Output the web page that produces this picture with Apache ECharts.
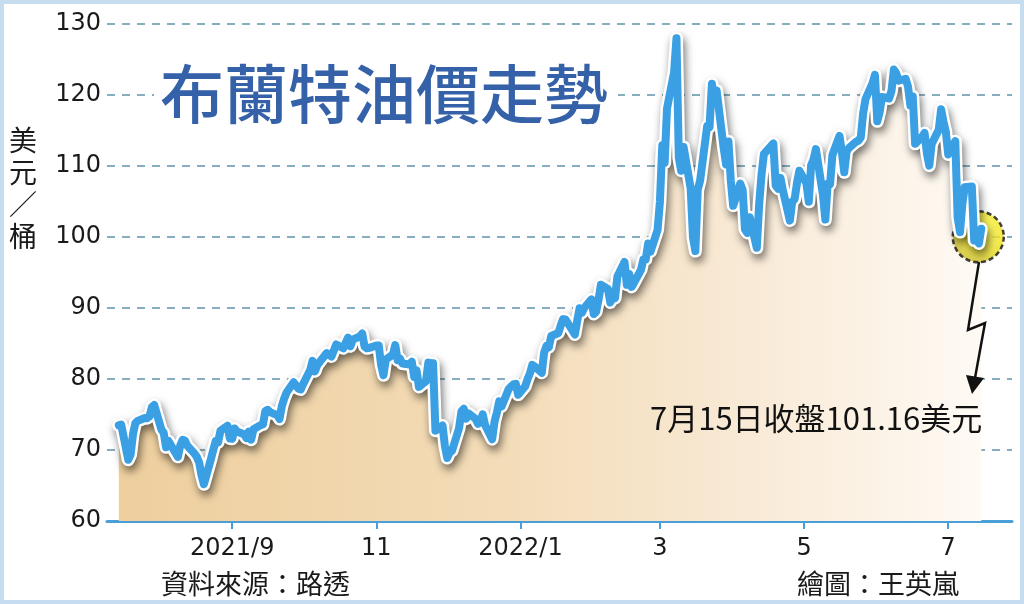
<!DOCTYPE html>
<html>
<head>
<meta charset="utf-8">
<script src="https://cdn.jsdelivr.net/npm/echarts@6/dist/echarts.min.js"></script>
<style>
html,body{margin:0;padding:0;background:#fff;}
#c{width:1024px;height:604px;}
</style>
</head>
<body>
<div id="c"></div>
<script>
// ---- data (Brent close, USD/bbl) ----
var dates = [
'2021-07-15','2021-07-16','2021-07-19','2021-07-20','2021-07-21','2021-07-22','2021-07-23','2021-07-26','2021-07-27','2021-07-28','2021-07-29','2021-07-30',
'2021-08-02','2021-08-03','2021-08-04','2021-08-05','2021-08-06','2021-08-09','2021-08-10','2021-08-11','2021-08-12','2021-08-13','2021-08-16','2021-08-17','2021-08-18','2021-08-19','2021-08-20','2021-08-23','2021-08-24','2021-08-25','2021-08-26','2021-08-27','2021-08-30','2021-08-31',
'2021-09-01','2021-09-02','2021-09-03','2021-09-06','2021-09-07','2021-09-08','2021-09-09','2021-09-10','2021-09-13','2021-09-14','2021-09-15','2021-09-16','2021-09-17','2021-09-20','2021-09-21','2021-09-22','2021-09-23','2021-09-24','2021-09-27','2021-09-28','2021-09-29','2021-09-30',
'2021-10-01','2021-10-04','2021-10-05','2021-10-06','2021-10-07','2021-10-08','2021-10-11','2021-10-12','2021-10-13','2021-10-14','2021-10-15','2021-10-18','2021-10-19','2021-10-20','2021-10-21','2021-10-22','2021-10-25','2021-10-26','2021-10-27','2021-10-28','2021-10-29',
'2021-11-01','2021-11-02','2021-11-03','2021-11-04','2021-11-05','2021-11-08','2021-11-09','2021-11-10','2021-11-11','2021-11-12','2021-11-15','2021-11-16','2021-11-17','2021-11-18','2021-11-19','2021-11-22','2021-11-23','2021-11-24','2021-11-25','2021-11-26','2021-11-29','2021-11-30',
'2021-12-01','2021-12-02','2021-12-03','2021-12-06','2021-12-07','2021-12-08','2021-12-09','2021-12-10','2021-12-13','2021-12-14','2021-12-15','2021-12-16','2021-12-17','2021-12-20','2021-12-21','2021-12-22','2021-12-23','2021-12-24','2021-12-27','2021-12-28','2021-12-29','2021-12-30','2021-12-31',
'2022-01-03','2022-01-04','2022-01-05','2022-01-06','2022-01-07','2022-01-10','2022-01-11','2022-01-12','2022-01-13','2022-01-14','2022-01-17','2022-01-18','2022-01-19','2022-01-20','2022-01-21','2022-01-24','2022-01-25','2022-01-26','2022-01-27','2022-01-28','2022-01-31',
'2022-02-01','2022-02-02','2022-02-03','2022-02-04','2022-02-07','2022-02-08','2022-02-09','2022-02-10','2022-02-11','2022-02-14','2022-02-15','2022-02-16','2022-02-17','2022-02-18','2022-02-21','2022-02-22','2022-02-23','2022-02-24','2022-02-25','2022-02-28',
'2022-03-01','2022-03-02','2022-03-03','2022-03-04','2022-03-07','2022-03-08','2022-03-09','2022-03-10','2022-03-11','2022-03-14','2022-03-15','2022-03-16','2022-03-17','2022-03-18','2022-03-21','2022-03-22','2022-03-23','2022-03-24','2022-03-25','2022-03-28','2022-03-29','2022-03-30','2022-03-31',
'2022-04-01','2022-04-04','2022-04-05','2022-04-06','2022-04-07','2022-04-08','2022-04-11','2022-04-12','2022-04-13','2022-04-14','2022-04-18','2022-04-19','2022-04-20','2022-04-21','2022-04-22','2022-04-25','2022-04-26','2022-04-27','2022-04-28','2022-04-29',
'2022-05-02','2022-05-03','2022-05-04','2022-05-05','2022-05-06','2022-05-09','2022-05-10','2022-05-11','2022-05-12','2022-05-13','2022-05-16','2022-05-17','2022-05-18','2022-05-19','2022-05-20','2022-05-23','2022-05-24','2022-05-25','2022-05-26','2022-05-27','2022-05-30','2022-05-31',
'2022-06-01','2022-06-02','2022-06-03','2022-06-06','2022-06-07','2022-06-08','2022-06-09','2022-06-10','2022-06-13','2022-06-14','2022-06-15','2022-06-16','2022-06-17','2022-06-20','2022-06-21','2022-06-22','2022-06-23','2022-06-24','2022-06-27','2022-06-28','2022-06-29','2022-06-30',
'2022-07-01','2022-07-04','2022-07-05','2022-07-06','2022-07-07','2022-07-08','2022-07-11','2022-07-12','2022-07-13','2022-07-14','2022-07-15'
];
var prices = [
73.47,73.59,68.62,69.35,72.23,73.79,74.10,74.50,74.48,74.74,76.05,76.33,
72.89,72.41,70.38,71.29,70.70,69.04,70.63,71.44,71.31,70.59,69.51,69.03,68.23,66.45,65.18,68.75,70.05,71.25,71.07,72.70,73.41,71.63,
71.59,73.03,72.61,72.22,71.69,72.60,71.45,72.92,73.51,73.60,75.46,75.67,75.34,74.92,74.36,76.19,77.25,78.09,79.53,79.09,78.64,78.52,
79.28,81.26,82.56,81.08,81.95,82.39,83.65,83.42,83.18,84.00,84.86,84.33,85.08,85.82,84.61,85.53,85.99,86.40,84.58,84.32,84.38,
84.71,84.72,81.99,80.54,82.74,83.43,84.78,82.64,82.87,82.17,82.05,82.43,80.28,81.24,78.89,79.70,82.31,82.25,82.22,72.72,73.44,70.57,
68.87,69.67,69.88,73.08,75.44,75.82,74.42,75.15,74.39,73.70,73.88,75.02,73.52,71.52,73.98,75.29,76.85,76.14,78.60,78.94,79.23,79.32,77.78,
78.98,80.00,80.80,81.99,81.75,80.87,83.72,84.67,84.47,86.06,86.48,87.51,88.44,88.38,87.89,86.27,88.20,89.96,89.34,90.03,91.21,
89.16,89.47,91.11,93.27,92.69,90.78,91.55,91.41,94.44,96.48,93.28,94.81,92.97,93.54,95.39,96.84,96.84,99.08,97.93,100.99,
104.97,112.93,110.46,118.11,123.21,127.98,111.14,109.33,112.67,106.90,99.91,98.02,106.64,107.93,115.62,115.48,121.60,119.03,120.65,112.48,110.23,113.45,107.91,
104.39,107.53,106.64,101.07,100.58,102.78,98.48,104.64,108.78,111.70,113.16,107.25,106.80,108.33,106.65,102.32,104.99,105.32,107.59,109.34,
107.58,104.97,110.14,110.90,112.39,105.94,102.46,107.51,107.45,111.55,114.24,111.93,109.11,112.04,112.55,113.42,113.56,114.03,117.40,119.43,121.67,122.84,
116.29,117.61,119.72,119.51,120.57,123.58,123.07,122.01,122.27,121.17,118.51,119.81,113.12,114.13,114.65,111.74,110.05,113.12,115.09,117.98,116.26,114.81,
111.63,113.50,102.77,100.69,104.65,107.02,107.10,99.49,99.57,99.10,101.16
];
var tickDates = ['2021-09-01','2021-11-01','2022-01-01','2022-03-01','2022-05-01','2022-07-01'];
var tickLabels = ['2021/9','11','2022/1','3','5','7'];
var axisStart = '2021-07-10';
var axisEnd = '2022-07-28';

var DAY = 86400000;
function dayNum(s){var p=s.split('-');return Math.round(Date.UTC(+p[0],+p[1]-1,+p[2])/DAY);}
var seriesData = dates.map(function(d,i){return [dayNum(d), prices[i]];});
var tickDays = tickDates.map(dayNum);
var lastPoint = seriesData[seriesData.length-1];

var chart = echarts.init(document.getElementById('c'));
var option = {
  backgroundColor:'#ffffff',
  animation:false,
  grid:{left:107,right:12,top:24,bottom:83},
  xAxis:{
    type:'value',
    min:dayNum(axisStart), max:dayNum(axisEnd),
    splitLine:{show:false},
    axisLine:{show:true,lineStyle:{color:'#4b9fd9',width:3}},
    axisTick:{show:true,customValues:tickDays,length:8,lineStyle:{color:'#4b9fd9',width:2}},
    axisLabel:{
      customValues:tickDays,
      margin:16,
      color:'#1a1a1a',fontSize:24,fontFamily:'DejaVu Sans',
      formatter:function(v){var i=tickDays.indexOf(Math.round(v));return i>=0?tickLabels[i]:'';}
    }
  },
  yAxis:{
    type:'value',min:60,max:130,interval:10,
    axisLine:{show:false},axisTick:{show:false},
    axisLabel:{color:'#1a1a1a',fontSize:24,fontFamily:'DejaVu Sans',margin:6},
    splitLine:{show:true,lineStyle:{color:'#86aebf',width:2,type:[8,7]}}
  },
  series:[
    {
      type:'line',data:seriesData,symbol:'none',z:1,silent:true,
      lineStyle:{width:0,opacity:0},
      areaStyle:{opacity:1,color:new echarts.graphic.LinearGradient(0,0,1,0,[
        {offset:0,color:'#eecf9e'},{offset:0.45,color:'#f3dcb8'},{offset:0.75,color:'#f9ebd8'},{offset:1,color:'#fefaf4'}
      ])}
    },
    {
      type:'scatter',data:[lastPoint],z:2,silent:true,
      symbol:'circle',symbolSize:51,symbolOffset:[-3,8],
      itemStyle:{
        color:new echarts.graphic.RadialGradient(0.62,0.38,0.72,[
          {offset:0,color:'#fff83c'},{offset:0.6,color:'#ece01e'},{offset:1,color:'#bfb136'}
        ]),
        borderColor:'#111',borderWidth:2.5,borderType:[5,3]
      }
    },
    {
      type:'line',data:seriesData,symbol:'none',z:3,silent:true,
      lineStyle:{color:'#ffffff',width:13,join:'round',cap:'round',shadowColor:'rgba(0,0,0,0.55)',shadowBlur:8,shadowOffsetX:2,shadowOffsetY:5}
    },
    {
      type:'line',data:seriesData,symbol:'none',z:4,silent:true,
      lineStyle:{color:'#3a9fe3',width:8,join:'round',cap:'round'}
    }
  ],
  graphic:[
    {type:'rect',z:100,silent:true,shape:{x:2,y:2,width:1020,height:600},style:{fill:'none',stroke:'#c6dcef',lineWidth:4}},
    {type:'text',z:50,style:{text:'布蘭特油價走勢',x:154,y:94,verticalAlign:'middle',align:'left',
      fontSize:64,fontWeight:500,fontFamily:'"Noto Sans CJK TC"',fill:'#3561a8',backgroundColor:'#ffffff',padding:[0,10,0,6]}},
    {type:'text',z:50,style:{text:'美\n元\n／\n桶',x:23,y:124,align:'center',verticalAlign:'top',
      fontSize:28,lineHeight:32,fontFamily:'"Noto Sans CJK TC"',fill:'#1a1a1a'}},
    {type:'text',z:50,style:{text:'7月15日收盤101.16美元',x:650,y:418,align:'left',verticalAlign:'middle',
      fontSize:31,fontFamily:'"Noto Sans CJK TC"',fill:'#111'}},
    {type:'text',z:50,style:{text:'資料來源：路透',x:161,y:584,align:'left',verticalAlign:'middle',
      fontSize:27,fontFamily:'"Noto Sans CJK TC"',fill:'#1a1a1a'}},
    {type:'text',z:50,style:{text:'繪圖：王英嵐',x:797,y:584,align:'left',verticalAlign:'middle',
      fontSize:27,fontFamily:'"Noto Sans CJK TC"',fill:'#1a1a1a'}},
    {type:'polyline',z:50,silent:true,shape:{points:[[979,262],[968,330],[985,323],[975,378]]},style:{fill:'none',stroke:'#111',lineWidth:2.5}},
    {type:'polygon',z:50,silent:true,shape:{points:[[966,375],[984,378],[972,394]]},style:{fill:'#111'}}
  ]
};
chart.setOption(option);
</script>
</body>
</html>
